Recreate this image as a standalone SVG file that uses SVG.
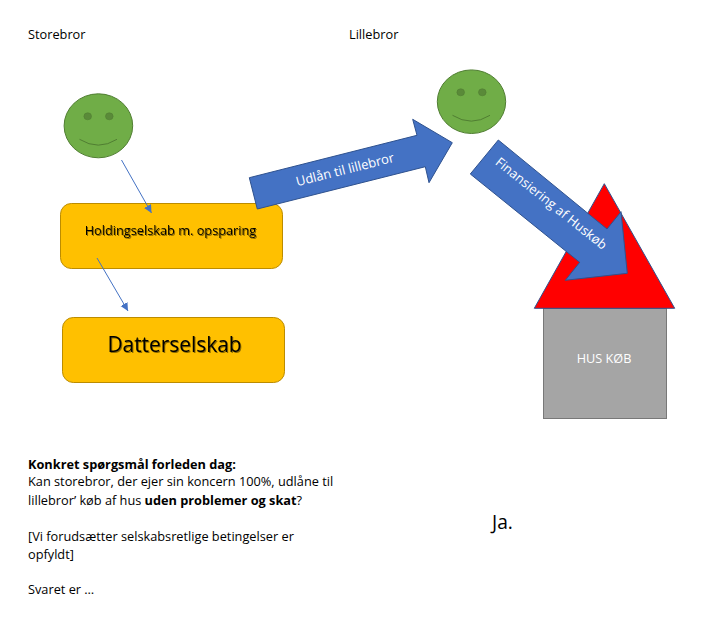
<svg xmlns="http://www.w3.org/2000/svg" width="705" height="626" viewBox="0 0 705 626">
<style>
text{font-family:"Open Sans","Noto Sans","Liberation Sans",sans-serif;fill:#000}
.t{font-size:12.75px}
.b{font-weight:700}
.box{fill:#ffc000;stroke:#bc8c00;stroke-width:1}
.face{fill:#70ad47;stroke:#507e32;stroke-width:1}
.eye{fill:#5a8a39;stroke:#507e32;stroke-width:.6}
.mouth{fill:none;stroke:#507e32;stroke-width:1}
.arrow{fill:#4472c4;stroke:#2f528f;stroke-width:1}
.sh{filter:drop-shadow(1px 1px .6px rgba(0,0,0,.45))}
.conn{stroke:#4472c4;stroke-width:1;fill:none;marker-end:url(#ah)}
</style>
<defs>
<marker id="ah" markerUnits="userSpaceOnUse" markerWidth="10" markerHeight="10" refX="8" refY="4" orient="auto"><path d="M0 0L8 4L0 8Z" fill="#4472c4"/></marker>
</defs>
<rect width="705" height="626" fill="#fff"/>
<text id="label-storebror" class="t" x="28" y="39">Storebror</text>
<text id="label-lillebror" class="t" x="349" y="39">Lillebror</text>
<g id="smiley-storebror">
<ellipse class="face" cx="98.4" cy="125.8" rx="34.3" ry="32"/>
<ellipse class="eye" cx="87.7" cy="116.3" rx="3.8" ry="3.5"/>
<ellipse class="eye" cx="109.3" cy="116.3" rx="3.8" ry="3.5"/>
<path class="mouth" d="M79.5 139.3Q98.4 151 117 139.3"/>
</g>
<g id="smiley-lillebror">
<ellipse class="face" cx="471.5" cy="101.7" rx="34.2" ry="31.8"/>
<ellipse class="eye" cx="460.7" cy="92.3" rx="3.8" ry="3.5"/>
<ellipse class="eye" cx="482.3" cy="92.3" rx="3.8" ry="3.5"/>
<path class="mouth" d="M452.5 115.3Q471.3 127 490 115.3"/>
</g>
<g id="holdingselskab">
<rect class="box" x="60.5" y="203.5" width="222" height="65" rx="10.8"/>
<text class="sh" x="170.5" y="235" text-anchor="middle" font-size="12.75">Holdingselskab m. opsparing</text>
</g>
<g id="datterselskab">
<rect class="box" x="62.5" y="317.5" width="222" height="65" rx="10.8"/>
<text class="sh" x="174.5" y="351.5" text-anchor="middle" font-size="20.9">Datterselskab</text>
</g>
<g id="hus">
<rect x="543.5" y="308.5" width="123" height="110" fill="#a5a5a5" stroke="#787878"/>
<text x="604" y="362.5" text-anchor="middle" font-size="12.7" style="fill:#fff">HUS KØB</text>
</g>
<g id="tag">
<path d="M604.3 183.7L534.3 308.3H674.7Z" fill="#f00" stroke="#2f528f"/>
</g>
<g id="udlaan">
<path class="arrow" d="M249.3 177.7L417 135.3L412.7 119.3L452.3 142.7L429 182.7L425.3 166.7L257.3 209Z"/>
<text style="fill:#fff" font-size="13" text-anchor="middle" transform="translate(346 174) rotate(-14.2)">Udlån til lillebror</text>
</g>
<g id="finansiering">
<path class="arrow" d="M498.3 140L607 229L621 211.7L627.3 273.3L565.3 280.3L579.7 262.3L470.3 174Z"/>
<text style="fill:#fff" font-size="13" text-anchor="middle" transform="translate(548.5 207) rotate(38.7)">Finansiering af Huskøb</text>
</g>
<g id="connectors">
<line class="conn" x1="121.5" y1="160" x2="151.5" y2="213"/>
<line class="conn" x1="97" y1="258" x2="128" y2="311"/>
</g>
<g id="tekst">
<text class="t b" x="28" y="469">Konkret spørgsmål forleden dag:</text>
<text class="t" x="28" y="486">Kan storebror, der ejer sin koncern 100%, udlåne til</text>
<text class="t" x="28" y="505">lillebror’ køb af hus <tspan class="b">uden problemer og skat</tspan>?</text>
<text class="t" x="28" y="541">[Vi forudsætter selskabsretlige betingelser er</text>
<text class="t" x="28" y="559">opfyldt]</text>
<text class="t" x="28" y="594">Svaret er …</text>
</g>
<text id="ja" x="492" y="528.5" font-size="19.2">Ja.</text>
</svg>
